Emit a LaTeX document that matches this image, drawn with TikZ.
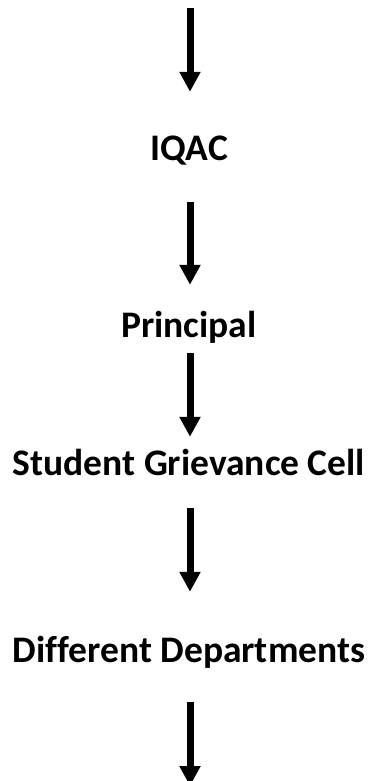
\documentclass[tikz,border=0pt]{standalone}
\usepackage{fontspec}
\setmainfont{Carlito}[Ligatures=NoCommon]
\usetikzlibrary{arrows.meta,positioning}

\begin{document}
\begin{tikzpicture}[
    x=1bp, y=-1bp,
    every node/.style={font=\bfseries\fontsize{37.5bp}{42bp}\selectfont},
    level/.style={inner sep=0pt, text height=23bp, text depth=0pt, anchor=base},
    flow/.style={line width=7bp, -{Triangle[width=20bp,length=20bp]}}
]
\useasboundingbox (0,0) rectangle (369,781);

% levels
\node[level] (iqac) at (189,160) {IQAC};
\node[level] (prin) at (189,337) {Principal};
\node[level] (sgc) at (189,475) {Student Grievance Cell};
\node[level] (dept) at (189,662) {Different Departments};

% free ends
\coordinate (top) at (190,8);
\coordinate (bottom) at (190,786);

% arrows
\draw[flow, shorten >=45bp] (top) -- (top |- iqac.north);
\draw[flow, shorten <=42bp, shorten >=29bp] (top |- iqac.south) -- (top |- prin.north);
\draw[flow, shorten <=16bp, shorten >=15bp] (top |- prin.south) -- (top |- sgc.north);
\draw[flow, shorten <=33bp, shorten >=47bp] (top |- sgc.south) -- (top |- dept.north);
\draw[flow, shorten <=40bp] (top |- dept.south) -- (bottom);

\end{tikzpicture}
\end{document}
